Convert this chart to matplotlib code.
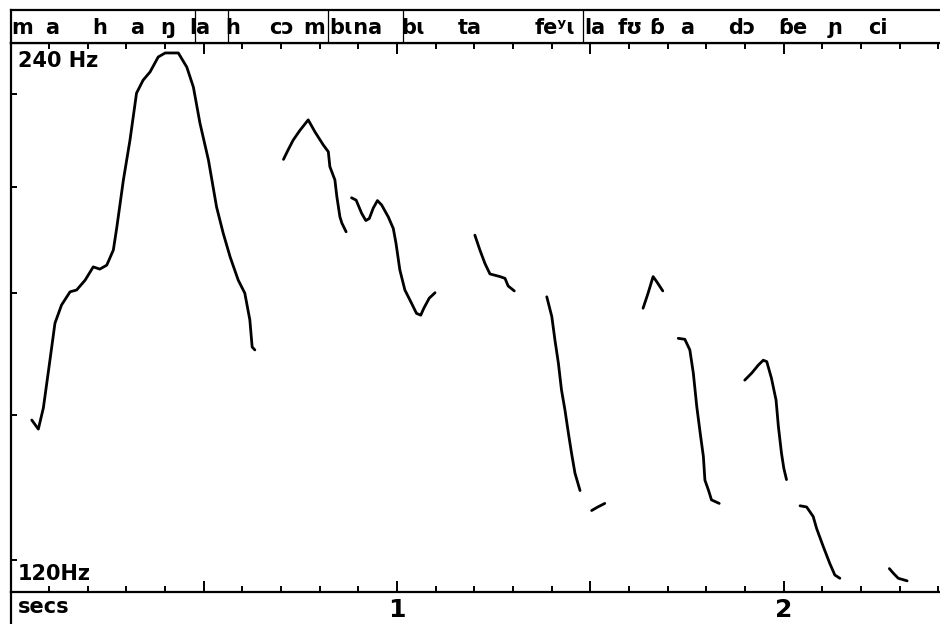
#!/usr/bin/env python3

import matplotlib
matplotlib.use("Agg")
import matplotlib.pyplot as plt
import matplotlib.ticker as ticker
from matplotlib.lines import Line2D

# pitch contours: time (s) and F0 (Hz), one pair per voiced stretch
t1 = [0.055, 0.072, 0.085, 0.102, 0.115, 0.132, 0.154, 0.171, 0.193, 0.214, 0.231,
      0.249, 0.266, 0.275, 0.292, 0.309, 0.326, 0.343, 0.361, 0.382, 0.400, 0.434,
      0.456, 0.473, 0.490, 0.512, 0.533, 0.550, 0.568, 0.589, 0.606, 0.619, 0.625, 0.632]
f1 = [149.1, 147.4, 151.4, 160.8, 168.5, 172.4, 175.3, 175.7, 177.9, 180.9, 180.4,
      181.3, 184.8, 190.2, 201.9, 212.3, 225.3, 229.0, 231.4, 235.8, 237.0, 237.0,
      232.8, 227.0, 216.9, 207.0, 195.1, 188.8, 183.2, 177.9, 175.0, 169.2, 163.5, 162.9]

t2 = [0.706, 0.718, 0.731, 0.749, 0.770, 0.787, 0.809, 0.822, 0.826, 0.839, 0.844,
      0.852, 0.857, 0.868]
f2 = [207.2, 209.7, 212.3, 215.0, 217.8, 214.6, 211.0, 209.2, 205.3, 201.9, 197.7,
      192.7, 191.2, 189.1]

t3 = [0.882, 0.894, 0.908, 0.919, 0.928, 0.938, 0.949, 0.960, 0.977, 0.990, 0.997,
      1.007, 1.020, 1.033, 1.050, 1.061, 1.069, 1.083, 1.098]
f3 = [197.4, 196.8, 193.6, 191.8, 192.3, 194.8, 196.7, 195.6, 192.7, 189.9, 186.4,
      180.2, 175.7, 173.5, 170.6, 170.2, 171.7, 173.9, 175.1]

t4 = [1.201, 1.214, 1.227, 1.240, 1.266, 1.279, 1.287, 1.303]
f4 = [188.3, 184.8, 181.7, 179.3, 178.7, 178.3, 176.6, 175.5]

t5 = [1.387, 1.400, 1.408, 1.417, 1.425, 1.434, 1.443, 1.451, 1.460, 1.473]
f5 = [174.2, 169.9, 165.0, 160.2, 154.9, 151.0, 146.6, 143.0, 139.4, 136.4]

t6 = [1.503, 1.519, 1.537]
f6 = [133.0, 133.6, 134.2]

t7 = [1.636, 1.649, 1.662, 1.671, 1.687]
f7 = [171.7, 175.0, 178.7, 177.6, 175.5]

t8 = [1.727, 1.744, 1.757, 1.766, 1.775, 1.785, 1.792, 1.796, 1.805, 1.813, 1.833]
f8 = [165.3, 165.1, 162.9, 158.2, 151.6, 146.0, 142.4, 138.2, 136.5, 134.8, 134.2]

t9 = [1.899, 1.917, 1.934, 1.947, 1.956, 1.968, 1.980, 1.986, 1.994, 2.000, 2.007]
f9 = [156.8, 158.2, 159.8, 160.8, 160.5, 157.2, 152.9, 147.9, 143.0, 140.3, 138.3]

t10 = [2.042, 2.059, 2.076, 2.085, 2.102, 2.119, 2.132, 2.145]
f10 = [133.8, 133.6, 132.0, 130.0, 127.1, 124.4, 122.6, 122.1]

t11 = [2.273, 2.283, 2.296, 2.319]
f11 = [123.6, 122.9, 122.1, 121.7]

# segment labels along the top row (centre time in s)
seg_labels = ["m", "a", "h", "a", "ŋ", "la", "h", "cɔ", "m", "bɩna", "bɩ", "ta",
              "feʸɩ", "la", "fʊ", "ɓ", "a", "dɔ", "ɓe", "ɲ", "ci"]
seg_times = [0.030, 0.107, 0.231, 0.327, 0.407, 0.490, 0.575, 0.702, 0.785, 0.893,
             1.041, 1.188, 1.408, 1.511, 1.602, 1.672, 1.749, 1.892, 2.024, 2.132, 2.243]
boundaries = [0.477, 0.562, 0.821, 1.015, 1.480]

fmin, fmax = 120, 240
tmax = 2.404
ytick_hz = [125, 150, 175, 200, 225]

FONT = ["DejaVu Sans"]

W, H = 940, 624
fig = plt.figure(figsize=(W / 100, H / 100), dpi=100)

x0 = 10.5
ytop, ybot, yrow = 43, 592, 10
ax = fig.add_axes([x0 / W, (H - ybot) / H, (W - x0) / W, (ybot - ytop) / H])
axl = fig.add_axes([x0 / W, (H - ytop) / H, (W - x0) / W, (ytop - yrow) / H], sharex=ax)

for tt, ff in [(t1, f1), (t2, f2), (t3, f3), (t4, f4), (t5, f5), (t6, f6),
               (t7, f7), (t8, f8), (t9, f9), (t10, f10), (t11, f11)]:
    ax.plot(tt, ff, color="black", lw=2.0, solid_capstyle="round")

ax.set_yscale("log")
ax.set_ylim(fmin, fmax)
ax.set_xlim(0, tmax)
ax.spines["right"].set_visible(False)
for s in ["top", "left", "bottom"]:
    ax.spines[s].set_linewidth(1.6)

ax.xaxis.set_major_locator(ticker.MultipleLocator(0.5))
ax.xaxis.set_minor_locator(ticker.MultipleLocator(0.1))
ax.xaxis.set_major_formatter(ticker.FuncFormatter(
    lambda v, p: "%d" % round(v) if abs(v - round(v)) < 1e-6 and v > 0.5 else ""))
ax.tick_params(axis="x", which="both", direction="in", top=True, bottom=True,
               width=1.4, colors="black")
ax.tick_params(axis="x", which="major", length=8, pad=4, labelsize=18)
ax.tick_params(axis="x", which="minor", length=4)
ax.yaxis.set_major_locator(ticker.FixedLocator(ytick_hz))
ax.yaxis.set_minor_locator(ticker.NullLocator())
ax.yaxis.set_major_formatter(ticker.NullFormatter())
ax.tick_params(axis="y", direction="in", length=4, width=1.4)
for lab in ax.get_xticklabels():
    lab.set_family(FONT)
    lab.set_fontweight("bold")

ax.text(0.008, 0.985, "240 Hz", transform=ax.transAxes, ha="left", va="top",
        fontsize=15, fontweight="bold", family=FONT)
ax.text(0.008, 0.015, "120Hz", transform=ax.transAxes, ha="left", va="bottom",
        fontsize=15, fontweight="bold", family=FONT)
fig.text(18 / W, 1 - 607 / H, "secs", ha="left", va="center",
         fontsize=15, fontweight="bold", family=FONT)

# label row
axl.set_ylim(0, 1)
axl.spines["right"].set_visible(False)
for s in ["top", "left", "bottom"]:
    axl.spines[s].set_linewidth(1.6)
axl.tick_params(axis="both", which="both", length=0, labelbottom=False, labelleft=False)
axl.set_yticks([])
for lab, t in zip(seg_labels, seg_times):
    axl.text(t, 0.45, lab, ha="center", va="center", fontsize=15,
             fontweight="bold", family=FONT)
for b in boundaries:
    axl.plot([b, b], [0, 1], color="black", lw=0.9)

# outer left line continues below the time axis
fig.add_artist(Line2D([x0 / W, x0 / W], [0, (H - ybot) / H], color="black", lw=1.6))

fig.savefig("out.png", dpi=100)
